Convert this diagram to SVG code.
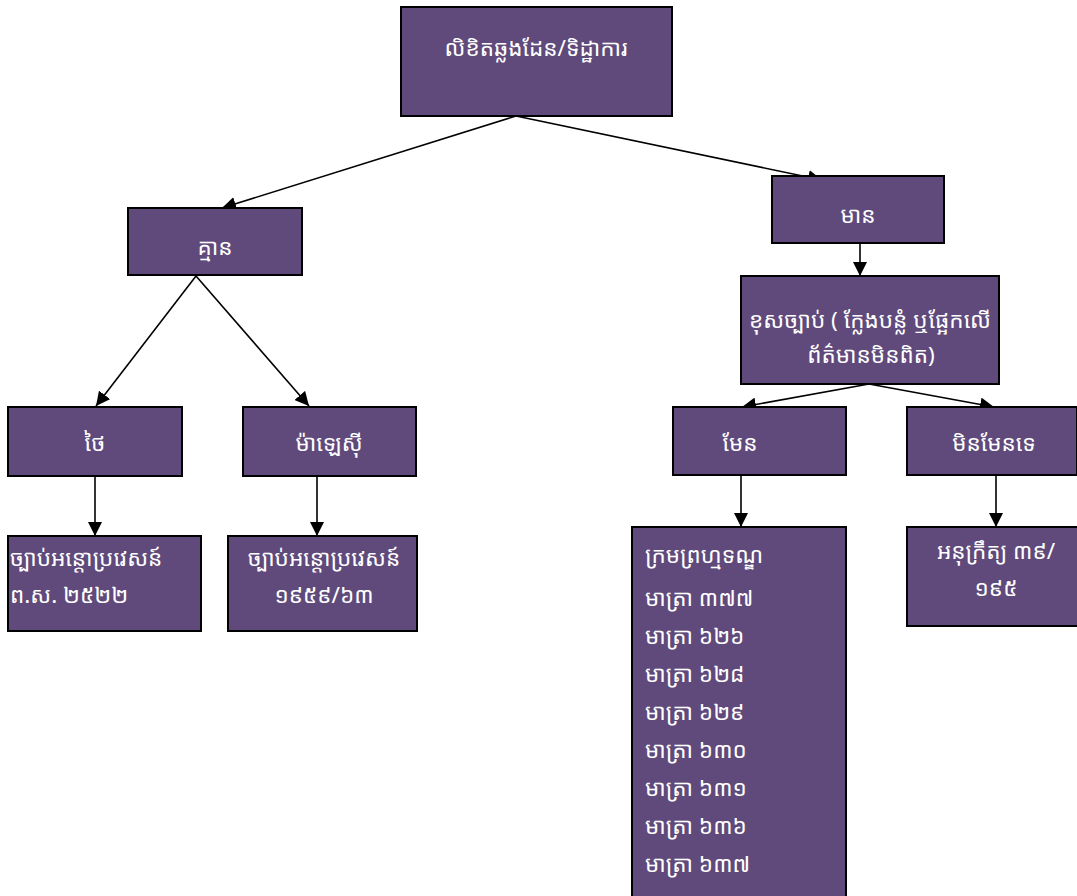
<svg xmlns="http://www.w3.org/2000/svg" width="1077" height="896" viewBox="0 0 1077 896">
<style>
.box{fill:#604A7B;stroke:#000;stroke-width:2}
.t{fill:#fff;font-family:"Noto Sans Khmer","Khmer OS","Noto Sans","DejaVu Sans",sans-serif;font-size:22.5px}
.c{text-anchor:middle}
.e{stroke:#000;stroke-width:1.6;fill:none;marker-end:url(#ah)}
</style>
<defs>
<marker id="ah" viewBox="0 0 10 10" refX="10" refY="5" markerWidth="14" markerHeight="14" markerUnits="userSpaceOnUse" orient="auto">
<path d="M0,0 L10,5 L0,10 z" fill="#000"/>
</marker>
</defs>
<rect width="1077" height="896" fill="#fff"/>
<g id="connectors">
<line class="e" x1="516" y1="116" x2="222" y2="208"/>
<line class="e" x1="516" y1="116" x2="822" y2="180"/>
<line class="e" x1="196" y1="276" x2="96" y2="406"/>
<line class="e" x1="196" y1="276" x2="309" y2="406"/>
<line class="e" x1="95" y1="476" x2="95" y2="536"/>
<line class="e" x1="317" y1="476" x2="317" y2="536"/>
<line class="e" x1="860" y1="243" x2="860" y2="276"/>
<line class="e" x1="869" y1="384" x2="742" y2="407"/>
<line class="e" x1="869" y1="384" x2="994" y2="407"/>
<line class="e" x1="741" y1="475" x2="741" y2="527"/>
<line class="e" x1="996" y1="475" x2="996" y2="527"/>
</g>
<g id="n-root"><rect class="box" x="401" y="7" width="271" height="109"/><text class="t c" x="536" y="56">លិខិតឆ្លងដែន/ទិដ្ឋាការ</text></g>
<g id="n-none"><rect class="box" x="128" y="208" width="174" height="67"/><text class="t c" x="215" y="255">គ្មាន</text></g>
<g id="n-have"><rect class="box" x="772" y="176" width="172" height="67"/><text class="t c" x="858" y="223">មាន</text></g>
<g id="n-illegal"><rect class="box" x="741" y="276" width="258" height="108"/><text class="t c" x="870" y="328">ខុសច្បាប់ ( ក្លែងបន្លំ ឬផ្អែកលើ</text><text class="t c" x="871" y="363">ព័ត៌មានមិនពិត)</text></g>
<g id="n-thai"><rect class="box" x="8" y="407" width="174" height="69"/><text class="t c" x="95" y="451">ថៃ</text></g>
<g id="n-malaysia"><rect class="box" x="243" y="407" width="173" height="69"/><text class="t c" x="329" y="451">ម៉ាឡេស៊ី</text></g>
<g id="n-thai-law"><rect class="box" x="8" y="536" width="193" height="95"/><text class="t" x="10" y="566">ច្បាប់អន្តោប្រវេសន៍</text><text class="t" x="10" y="603">ព.ស. ២៥២២</text></g>
<g id="n-my-law"><rect class="box" x="228" y="536" width="189" height="95"/><text class="t c" x="324" y="566">ច្បាប់អន្តោប្រវេសន៍</text><text class="t c" x="324" y="603">១៩៥៩/៦៣</text></g>
<g id="n-yes"><rect class="box" x="673" y="407" width="173" height="68"/><text class="t c" x="740" y="451">មែន</text></g>
<g id="n-no"><rect class="box" x="907" y="407" width="170" height="68"/><text class="t c" x="994" y="451">មិនមែនទេ</text></g>
<g id="n-penal"><rect class="box" x="632" y="527" width="214" height="380"/>
<text class="t" x="645" y="563">ក្រមព្រហ្មទណ្ឌ</text>
<text class="t" x="645" y="606">មាត្រា ៣៧៧</text>
<text class="t" x="645" y="644">មាត្រា ៦២៦</text>
<text class="t" x="645" y="682">មាត្រា ៦២៨</text>
<text class="t" x="645" y="720">មាត្រា ៦២៩</text>
<text class="t" x="645" y="758">មាត្រា ៦៣០</text>
<text class="t" x="645" y="796">មាត្រា ៦៣១</text>
<text class="t" x="645" y="834">មាត្រា ៦៣៦</text>
<text class="t" x="645" y="872">មាត្រា ៦៣៧</text>
</g>
<g id="n-decree"><rect class="box" x="907" y="527" width="172" height="99"/><text class="t c" x="996" y="559">អនុក្រឹត្យ ៣៩/</text><text class="t c" x="996" y="596">១៩៥</text></g>
</svg>
